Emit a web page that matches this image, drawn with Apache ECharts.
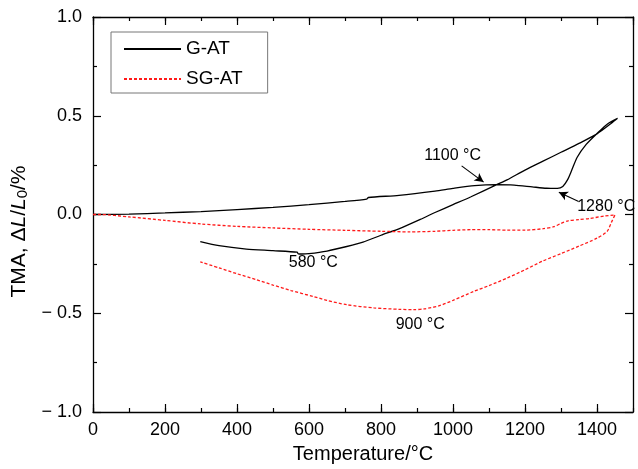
<!DOCTYPE html>
<html>
<head>
<meta charset="utf-8">
<script src="https://cdn.jsdelivr.net/npm/echarts@6/dist/echarts.min.js"></script>
<style>
  html, body { margin: 0; padding: 0; background: #fff; }
  #chart { width: 638px; height: 469px; }
</style>
</head>
<body>
<div id="chart"></div>
<script>
// G-AT: heating 0 -> ~1455 °C, then cooling back to 300 °C
const gatTemp = [0, 100, 200, 300, 400, 500, 600, 700, 760, 765, 850, 950, 1000, 1060, 1120, 1170, 1220, 1260, 1290, 1305, 1318, 1330, 1345, 1370, 1400, 1430, 1457,
  1440, 1400, 1350, 1300, 1250, 1200, 1150, 1120, 1050, 1000, 950, 909, 853, 800, 750, 705, 650, 600, 580, 570, 567, 500, 426, 350, 298]
const gatDL = [0, 0.002, 0.008, 0.015, 0.025, 0.036, 0.05, 0.066, 0.078, 0.086, 0.097, 0.118, 0.132, 0.146, 0.151, 0.149, 0.14, 0.133, 0.132, 0.142, 0.175, 0.225, 0.29, 0.355, 0.41, 0.46, 0.487,
  0.462, 0.408, 0.36, 0.315, 0.27, 0.225, 0.175, 0.15, 0.09, 0.05, 0.01, -0.025, -0.07, -0.105, -0.14, -0.162, -0.185, -0.198, -0.2, -0.199, -0.191, -0.183, -0.175, -0.158, -0.137]

// SG-AT: heating 0 -> ~1450 °C, then cooling back to 300 °C
const sgatTemp = [0, 20, 100, 200, 300, 400, 500, 600, 700, 800, 880, 950, 1000, 1050, 1100, 1150, 1200, 1250, 1280, 1300, 1320, 1350, 1380, 1420, 1450,
  1440, 1428, 1400, 1350, 1300, 1250, 1200, 1150, 1100, 1057, 1000, 960, 920, 890, 850, 780, 705, 650, 612, 550, 500, 454, 400, 350, 298]
const sgatDL = [0, 0, -0.012, -0.03, -0.048, -0.06, -0.068, -0.075, -0.08, -0.085, -0.088, -0.085, -0.08, -0.077, -0.077, -0.079, -0.079, -0.072, -0.062, -0.045, -0.032, -0.026, -0.02, -0.008, -0.002,
  -0.04, -0.086, -0.12, -0.16, -0.198, -0.235, -0.28, -0.322, -0.36, -0.39, -0.435, -0.463, -0.478, -0.482, -0.48, -0.473, -0.457, -0.435, -0.415, -0.385, -0.357, -0.33, -0.3, -0.27, -0.24]

// annotations (data coordinates)
const noteText = ['1100 °C', '1280 °C', '580 °C', '900 °C']
const noteAt = [[999, 0.297], [1345, 0.04], [612, -0.246], [909, -0.557]]
const noteAlign = ['center', 'left', 'center', 'center']
const arrowFrom = [[1024, 0.246], [1349, 0.066]]
const arrowTo = [[1085, 0.164], [1294, 0.113]]

const FONT = "'Liberation Sans', Arial, Helvetica, sans-serif"

const chart = echarts.init(document.getElementById('chart'), null, { renderer: 'canvas' })

function pairs(xs, ys) {
  return xs.map((x, i) => [x, ys[i]])
}

function yLabel(v) {
  if (Math.abs(v) < 1e-9) return '0.0'
  return v < 0 ? '\u2212 ' + Math.abs(v).toFixed(1) : v.toFixed(1)
}

// x axes: major (200) and minor (100) tick axes, bottom and top
function xAxisDef(position, interval, tickLen, main) {
  return {
    type: 'value',
    position: position,
    min: 0,
    max: 1500,
    interval: interval,
    name: main ? 'Temperature/°C' : '',
    nameLocation: 'middle',
    nameGap: 32,
    nameTextStyle: { fontFamily: FONT, fontSize: 20, color: '#000' },
    axisLine: { show: interval === 200, onZero: false, lineStyle: { color: '#000', width: 1.3 } },
    axisTick: { show: true, inside: true, length: tickLen, lineStyle: { color: '#000', width: 1.2 } },
    axisLabel: {
      show: main,
      showMaxLabel: false,
      margin: 9,
      fontFamily: FONT,
      fontSize: 18,
      color: '#000',
      formatter: v => String(v)
    },
    splitLine: { show: false }
  }
}

function yAxisDef(position, main) {
  return {
    type: 'value',
    position: position,
    min: -1,
    max: 1,
    interval: 0.5,
    name: main ? 'TMA, \u0394{i|L}/{i|L}{sub|0}/%' : '',
    nameLocation: 'middle',
    nameGap: 55,
    nameTextStyle: {
      fontFamily: FONT,
      fontSize: 21,
      color: '#000',
      padding: [0, 34, 0, 0],
      rich: {
        i: { fontFamily: FONT, fontSize: 21, fontStyle: 'italic', color: '#000' },
        sub: { fontFamily: FONT, fontSize: 15, color: '#000', verticalAlign: 'bottom', padding: [8, 0, 0, 0] }
      }
    },
    axisLine: { show: true, onZero: false, lineStyle: { color: '#000', width: 1.3 } },
    axisTick: { show: true, inside: true, length: 8, lineStyle: { color: '#000', width: 1.2 } },
    minorTick: { show: true, splitNumber: 2, length: 4, lineStyle: { color: '#000', width: 1.2 } },
    axisLabel: {
      show: main,
      margin: 11,
      fontFamily: FONT,
      fontSize: 18,
      color: '#000',
      formatter: yLabel
    },
    splitLine: { show: false },
    minorSplitLine: { show: false }
  }
}

const option = {
  backgroundColor: '#fff',
  animation: false,
  grid: { left: 93, right: 5, top: 17, bottom: 56, containLabel: false },
  legend: {
    data: ['G-AT', 'SG-AT'],
    orient: 'vertical',
    left: 111,
    top: 32,
    padding: [7, 25, 4, 12],
    itemGap: 10,
    itemWidth: 57,
    itemHeight: 14,
    itemStyle: { opacity: 0 },
    borderColor: '#777',
    borderWidth: 1,
    textStyle: { fontFamily: FONT, fontSize: 19, color: '#000', lineHeight: 20 }
  },
  xAxis: [
    xAxisDef('bottom', 200, 8, true),
    xAxisDef('bottom', 100, 4, false),
    xAxisDef('top', 200, 8, false),
    xAxisDef('top', 100, 4, false)
  ],
  yAxis: [
    yAxisDef('left', true),
    yAxisDef('right', false)
  ],
  series: [
    {
      name: 'G-AT',
      type: 'line',
      xAxisIndex: 0,
      yAxisIndex: 0,
      data: pairs(gatTemp, gatDL),
      showSymbol: false,
      symbol: 'none',
      smooth: 0.25,
      lineStyle: { color: '#000', width: 1.3 },
      itemStyle: { color: '#000' },
      markLine: {
        silent: true,
        symbol: ['none', 'arrow'],
        symbolSize: [7, 9],
        label: { show: false },
        lineStyle: { color: '#000', width: 1.1, type: 'solid' },
        data: arrowFrom.map((p, i) => [{ coord: p }, { coord: arrowTo[i] }])
      },
      markPoint: {
        silent: true,
        symbol: 'circle',
        symbolSize: 1,
        itemStyle: { color: 'rgba(0,0,0,0)' },
        label: { show: true, position: 'inside', fontFamily: FONT, fontSize: 16, color: '#000' },
        data: noteText.map((t, i) => ({
          coord: noteAt[i],
          value: t,
          label: { formatter: t, align: noteAlign[i] }
        }))
      }
    },
    {
      name: 'SG-AT',
      type: 'line',
      xAxisIndex: 0,
      yAxisIndex: 0,
      data: pairs(sgatTemp, sgatDL),
      showSymbol: false,
      symbol: 'none',
      smooth: 0.25,
      lineStyle: { color: '#ff1a1a', width: 1.3, type: [3, 2] },
      itemStyle: { color: '#ff1a1a' }
    }
  ]
}

chart.setOption(option)
</script>
</body>
</html>
